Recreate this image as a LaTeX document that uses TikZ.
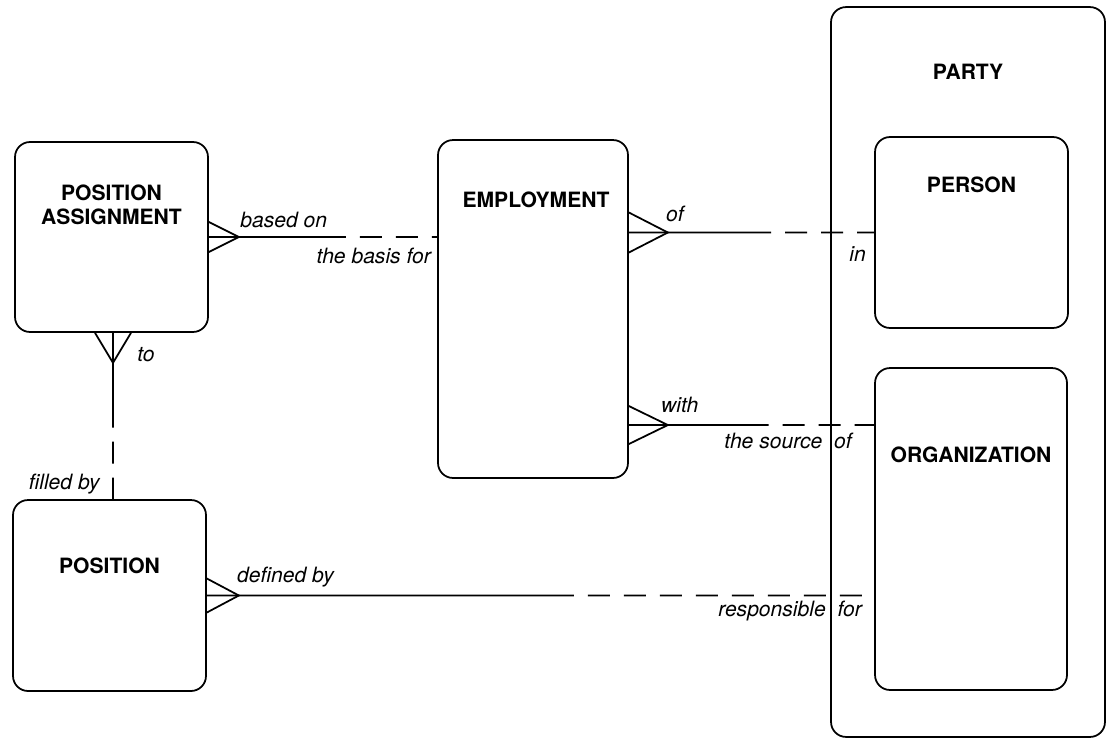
\documentclass[tikz,border=0pt]{standalone}
\usepackage{fontspec}
\setmainfont{TeX Gyre Heros}
\usetikzlibrary{positioning, calc}

\begin{document}
\begin{tikzpicture}[
    x=0.02cm, y=-0.02cm,
    entity/.style={draw, line width=1pt, rectangle, rounded corners=0.3cm, inner sep=0pt},
    ename/.style={font=\fontsize{12}{14}\selectfont\bfseries, align=center, inner sep=0pt},
    rlabel/.style={font=\fontsize{12}{14}\selectfont\itshape, inner sep=0pt},
    rel/.style={line width=1pt},
    opt/.style={line width=1pt, dash pattern=on 0.44cm off 0.28cm, dash phase=0.44cm}
]
\useasboundingbox (0,0) rectangle (1108,738);

% entities
\node[entity, minimum width=5.48cm, minimum height=14.6cm] (party) at (968,372) {};
\node[entity, minimum width=3.86cm, minimum height=3.8cm] (pa) at (111.5,237) {};
\node[entity, minimum width=3.86cm, minimum height=3.82cm] (pos) at (109.5,595.5) {};
\node[entity, minimum width=3.8cm, minimum height=6.76cm] (emp) at (533,309) {};
\node[entity, minimum width=3.86cm, minimum height=3.82cm] (person) at (971.5,232.5) {};
\node[entity, minimum width=3.84cm, minimum height=6.44cm] (org) at (971,529) {};

\node[ename, below=1.16cm of party.north] {PARTY};
\node[ename, below=0.86cm of pa.north] {POSITION\\ASSIGNMENT};
\node[ename, below=1.16cm of pos.north] {POSITION};
\node[ename, below=1.04cm of emp.north, xshift=0.06cm] {EMPLOYMENT};
\node[ename, below=0.8cm of person.north] {PERSON};
\node[ename, below=1.58cm of org.north] {ORGANIZATION};

% position assignment -- employment
\draw[rel] (pa.east) ++(0,-15) -- ++(30,15) -- ++(-30,15);
\coordinate (m1) at ($(pa.east)!0.6!(pa.east -| emp.west)$);
\draw[rel] (pa.east) -- (m1);
\draw[opt] (m1) -- (pa.east -| emp.west);
\node[rlabel, anchor=base west] at ([xshift=0.04cm, yshift=0.2cm]pa.east -| 238,0) {based on};
\node[rlabel, anchor=base east] at ([xshift=-0.12cm, yshift=-0.52cm]pa.east -| emp.west) {the basis for};

% employment -- person
\draw[rel] (emp.east |- person.west) ++(0,-20) -- ++(39,20) -- ++(-39,20);
\coordinate (m2) at ($(emp.east |- person.west)!0.58!(person.west)$);
\draw[rel] (emp.east |- person.west) -- (m2);
\draw[opt] (m2) -- (person.west);
\node[rlabel, anchor=base west] at ([xshift=0.74cm, yshift=0.22cm]emp.east |- person.west) {of};
\node[rlabel, anchor=base east] at ([xshift=-0.16cm, yshift=-0.58cm]person.west) {in};

% employment -- organization
\coordinate (ow) at ([yshift=2.08cm]org.west);
\draw[rel] (emp.east |- ow) ++(0,-19) -- ++(39,19) -- ++(-39,19);
\coordinate (m3) at ($(emp.east |- ow)!0.57!(ow)$);
\draw[rel] (emp.east |- ow) -- (m3);
\draw[opt] (m3) -- (ow);
\node[rlabel, anchor=base west] at ([xshift=0.64cm, yshift=0.26cm]emp.east |- ow) {with};
\node[rlabel, anchor=base east] at ([xshift=-0.44cm, yshift=-0.46cm]ow) {the source\hspace{0.12cm} of};

% position -- organization
\draw[rel] (pos.east) ++(0,-17) -- ++(32,17) -- ++(-32,17);
\coordinate (m4) at ($(pos.east)!0.55!(pos.east -| org.west)$);
\draw[rel] (pos.east) -- (m4);
\draw[opt] (m4) -- (pos.east -| org.west);
\node[rlabel, anchor=base west] at ([xshift=0.6cm, yshift=0.26cm]pos.east) {defined by};
\node[rlabel, anchor=base east] at ([xshift=-0.24cm, yshift=-0.42cm]pos.east -| org.west) {responsible\hspace{0.12cm} for};

% position assignment -- position
\coordinate (ps) at ([xshift=0.03cm]pa.south);
\draw[rel] (ps) ++(-18,0) -- ++(18,30) -- ++(18,-30);
\coordinate (m5) at ($(ps)!0.57!(ps |- pos.north)$);
\draw[rel] (ps) -- (m5);
\draw[opt] (m5) -- (ps |- pos.north);
\node[rlabel, anchor=base west] at ([xshift=0.48cm, yshift=-0.58cm]ps) {to};
\node[rlabel, anchor=base east] at ([xshift=-0.26cm, yshift=0.2cm]ps |- pos.north) {filled by};

\end{tikzpicture}
\end{document}
